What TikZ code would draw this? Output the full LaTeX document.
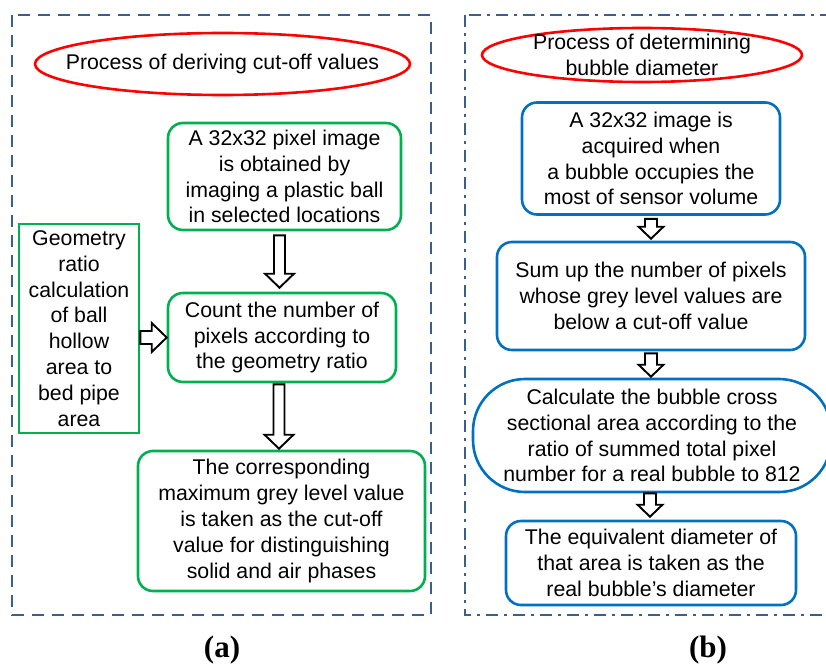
\documentclass[tikz,border=0pt]{standalone}
\usepackage{fontspec}
\setmainfont{Liberation Sans}
\newfontfamily\lblfont{Liberation Serif}
\usetikzlibrary{shapes.geometric,calc}
\definecolor{gboxc}{RGB}{0,176,80}
\definecolor{bboxc}{RGB}{0,112,192}
\definecolor{framec}{RGB}{58,95,140}
\newcommand{\vblockarrow}[5]{%
  \draw[blk] let \p1=(#1), \p2=(#2) in
    (\x1-#3pt,\y1) -- (\x1-#3pt,\y2+#5pt) -- (\x1-#4pt,\y2+#5pt) -- (\x1,\y2)
    -- (\x1+#4pt,\y2+#5pt) -- (\x1+#3pt,\y2+#5pt) -- (\x1+#3pt,\y1) -- cycle;}
\newcommand{\hblockarrow}[5]{%
  \draw[blk] let \p1=(#1), \p2=(#2) in
    (\x1,\y2+#3pt) -- (\x2-#5pt,\y2+#3pt) -- (\x2-#5pt,\y2+#4pt) -- (\x2,\y2)
    -- (\x2-#5pt,\y2-#4pt) -- (\x2-#5pt,\y2-#3pt) -- (\x1,\y2-#3pt) -- cycle;}
\begin{document}
\begin{tikzpicture}[x=1pt,y=-1pt,
  txt/.style={font=\fontsize{21.3}{25.8}\selectfont, align=center, inner sep=0pt},
  gbx/.style={txt, draw=gboxc, line width=2.6pt, rounded corners=15pt},
  gsq/.style={txt, draw=gboxc, line width=2.6pt},
  bbx/.style={txt, draw=bboxc, line width=2.6pt, rounded corners=15pt},
  redell/.style={ellipse, draw=red, line width=2.6pt, inner sep=0pt},
  blk/.style={draw=black, fill=white, line width=1.9pt, line join=miter},
  frameA/.style={draw=framec, line width=2.6pt, dash pattern=on 12pt off 8pt},
  frameB/.style={draw=framec, line width=2.6pt, dash pattern=on 12pt off 6pt on 3pt off 6pt},
  lbl/.style={font=\lblfont\bfseries\fontsize{31}{34}\selectfont, inner sep=0pt}]
\useasboundingbox (0,0) rectangle (826,671);
\clip (0,0) rectangle (826,671);
\fill[white] (0,0) rectangle (826,671);

% frames
\draw[frameA] (12,15) rectangle (431,615);
\draw[frameB] (465,15) rectangle (845,615);

% left panel
\node[redell, minimum width=375pt, minimum height=62pt,
  label={[txt]center:Process of deriving cut-off values}] (e1) at (222.5,64) {};
\node[gbx, minimum width=233pt, minimum height=107pt] (g1) at (284.5,176.5)
  {A 32x32 pixel image\\is obtained by\\imaging a plastic ball\\in selected locations};
\node[gsq, minimum width=120pt, minimum height=209pt] (geo) at (79,328.5)
  {Geometry\\ratio\\calculation\\of ball\\hollow\\area to\\bed pipe\\area};
\node[gbx, minimum width=228pt, minimum height=89pt] (cnt) at (282,337.5)
  {Count the number of\\pixels according to\\the geometry ratio};
\node[gbx, minimum width=287pt, minimum height=140pt] (g3) at (281.5,521)
  {The corresponding\\maximum grey level value\\is taken as the cut-off\\value for distinguishing\\solid and air phases};

\vblockarrow{$(g1.south)+(-5,4)$}{$(cnt.north)+(0,-4)$}{5.5}{14.5}{14}
\vblockarrow{$(cnt.south)+(-3,1)$}{$(g3.north)+(0,-1)$}{5.5}{14.5}{14}
\hblockarrow{geo.east}{cnt.west}{6.5}{14.5}{15}

% right panel
\node[redell, minimum width=320pt, minimum height=54pt,
  label={[txt]center:{Process of determining\\bubble diameter}}] (e2) at (642,55) {};
\node[bbx, minimum width=258pt, minimum height=112pt] (b1) at (651,158.5)
  {A 32x32 image is\\acquired when\\a bubble occupies the\\most of sensor volume};
\node[bbx, minimum width=308pt, minimum height=108pt] (b2) at (651,296)
  {Sum up the number of pixels\\whose grey level values are\\below a cut-off value};
\node[bbx, rounded corners=52pt, minimum width=358pt, minimum height=113pt] (b3) at (652,435.5)
  {Calculate the bubble cross\\sectional area according to the\\ratio of summed total pixel\\number for a real bubble to 812};
\node[bbx, minimum width=290pt, minimum height=84pt] (b4) at (651,563)
  {The equivalent diameter of\\that area is taken as the\\real bubble’s diameter};

\vblockarrow{$(b1.south)+(0,3)$}{$(b2.north)+(0,-2)$}{6}{12.5}{12}
\vblockarrow{$(b2.south)+(0,2)$}{$(b3.north)+(0,-1)$}{6}{12.5}{12}
\vblockarrow{$(b3.south)+(-2,0)$}{$(b4.north)+(-2,-3)$}{6}{12.5}{12}

% captions
\node[lbl] (la) at (222,650) {(a)};
\node[lbl] (lb) at (708,650) {(b)};
\end{tikzpicture}
\end{document}
